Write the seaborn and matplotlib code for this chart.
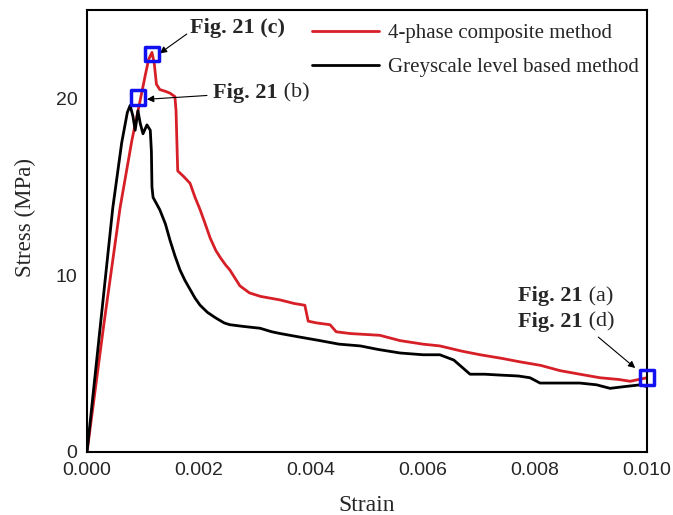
import matplotlib
matplotlib.use("Agg")
import matplotlib.pyplot as plt
import seaborn as sns
import numpy as np
import pandas as pd

# 4-phase composite method (strain x 1e-3, stress MPa)
red_strain = [0, 0.30, 0.59, 0.80, 0.95, 1.04, 1.10, 1.16, 1.20, 1.24, 1.30, 1.40, 1.48,
              1.57, 1.59, 1.61, 1.62, 1.72, 1.84, 1.93, 2.02, 2.10, 2.20, 2.30, 2.38,
              2.47, 2.55, 2.65, 2.73, 2.90, 3.10, 3.45, 3.70, 3.89, 3.95, 4.10, 4.34,
              4.45, 4.70, 5.23, 5.59, 6.00, 6.30, 6.70, 7.02, 7.40, 7.73, 8.10, 8.45,
              8.80, 9.16, 9.50, 9.70, 9.85, 10.0]
red_stress = [0, 7.2, 13.8, 17.6, 19.9, 21.3, 22.2, 22.6, 22.0, 20.8, 20.5, 20.4, 20.3,
              20.1, 19.3, 17.0, 15.9, 15.6, 15.2, 14.4, 13.7, 13.0, 12.1, 11.4, 11.0,
              10.6, 10.3, 9.8, 9.4, 9.0, 8.8, 8.6, 8.4, 8.3, 7.4, 7.3, 7.2,
              6.8, 6.7, 6.6, 6.3, 6.1, 6.0, 5.7, 5.5, 5.3, 5.1, 4.9, 4.6,
              4.4, 4.2, 4.1, 4.0, 4.1, 4.2]

# Greyscale level based method
black_strain = [0, 0.25, 0.46, 0.62, 0.72, 0.77, 0.82, 0.86, 0.91, 0.95, 1.00, 1.07, 1.13,
                1.15, 1.16, 1.18, 1.30, 1.40, 1.48, 1.57, 1.66, 1.75, 1.84, 1.93, 2.02,
                2.15, 2.29, 2.45, 2.55, 2.80, 3.09, 3.30, 3.45, 3.80, 4.16, 4.50, 4.88,
                5.20, 5.59, 6.00, 6.30, 6.55, 6.84, 7.10, 7.38, 7.70, 7.91, 8.09, 8.50,
                8.80, 9.10, 9.34, 9.60, 9.88, 10.0]
black_stress = [0, 7.5, 13.8, 17.5, 19.2, 19.6, 19.0, 18.2, 19.3, 18.6, 18.0, 18.5, 18.2,
                17.0, 15.0, 14.4, 13.7, 12.9, 12.0, 11.1, 10.3, 9.7, 9.2, 8.7, 8.3,
                7.9, 7.6, 7.3, 7.2, 7.1, 7.0, 6.8, 6.7, 6.5, 6.3, 6.1, 6.0,
                5.8, 5.6, 5.5, 5.5, 5.2, 4.4, 4.4, 4.35, 4.3, 4.2, 3.9, 3.9,
                3.9, 3.8, 3.6, 3.7, 3.8, 3.7]

# blue square markers (Fig. 21 snapshots)
mark_strain = [1.16, 0.91, 10.0]
mark_stress = [22.5, 20.05, 4.2]

red_df = pd.DataFrame({"Strain": np.array(red_strain) * 1e-3, "Stress": red_stress})
black_df = pd.DataFrame({"Strain": np.array(black_strain) * 1e-3, "Stress": black_stress})
mark_df = pd.DataFrame({"Strain": np.array(mark_strain) * 1e-3, "Stress": mark_stress})

sns.set_style("white")
serif = ["Liberation Serif", "DejaVu Serif"]
plt.rcParams["font.family"] = ["Liberation Sans", "DejaVu Sans"]

fig = plt.figure(figsize=(6.73, 5.15), dpi=100)
ax = fig.add_axes([87 / 673, 1 - 452 / 515, 560 / 673, 442 / 515])

sns.lineplot(data=red_df, x="Strain", y="Stress", sort=False, color="#d61f26", lw=2,
             label="4-phase composite method", ax=ax)
sns.lineplot(data=black_df, x="Strain", y="Stress", sort=False, color="black", lw=2,
             label="Greyscale level based method", ax=ax)
sns.scatterplot(data=mark_df, x="Strain", y="Stress", marker="s", s=110,
                facecolor="none", edgecolor="#1010f0", linewidth=2.5, zorder=5,
                clip_on=False, ax=ax)

ax.set_xlim(0, 0.010)
ax.set_ylim(0, 25)
ax.set_xticks([0, 0.002, 0.004, 0.006, 0.008, 0.010])
ax.set_xticklabels(["0.000", "0.002", "0.004", "0.006", "0.008", "0.010"])
ax.set_yticks([0, 10, 20])
ax.tick_params(length=0, labelsize=14)
ax.tick_params(axis="x", pad=7)
ax.tick_params(axis="y", pad=7)
for sp in ax.spines.values():
    sp.set_linewidth(1.5)
    sp.set_color("black")

ax.set_xlabel("Strain", family=serif, fontsize=17)
ax.set_ylabel("Stress (MPa)", family=serif, fontsize=16.5)
ax.xaxis.set_label_coords(0.5, -0.097)
ax.yaxis.set_label_coords(-0.091, 0.53)

arrow = dict(arrowstyle="-|>", color="black", lw=0.8, mutation_scale=10)
ax.annotate("Fig. 21 (c)", xy=(0.00130, 22.55), xytext=(0.00184, 24.0),
            family=serif, fontsize=16, fontweight="bold", va="center", ha="left",
            arrowprops=dict(arrow, shrinkA=0, shrinkB=0, relpos=(0, 0.3)))
tb = ax.annotate("Fig. 21", xy=(0.00107, 19.95), xytext=(0.00225, 20.3),
                 family=serif, fontsize=16, fontweight="bold", va="center", ha="left",
                 arrowprops=dict(arrow, shrinkA=2, shrinkB=0, relpos=(0, 0.4)))
ax.annotate(" (b)", xy=(1, 0.5), xycoords=tb, va="center", ha="left",
            family=serif, fontsize=16)
ta = ax.text(0.0077, 8.8, "Fig. 21", family=serif, fontsize=16, fontweight="bold",
             va="center", ha="left")
ax.annotate(" (a)", xy=(1, 0.5), xycoords=ta, va="center", ha="left",
            family=serif, fontsize=16)
td = ax.text(0.0077, 7.35, "Fig. 21", family=serif, fontsize=16, fontweight="bold",
             va="center", ha="left")
ax.annotate(" (d)", xy=(1, 0.5), xycoords=td, va="center", ha="left",
            family=serif, fontsize=16)
ax.annotate("", xy=(0.00979, 4.75), xytext=(0.00913, 6.5),
            arrowprops=dict(arrow, shrinkA=0, shrinkB=0))

ax.legend(loc="upper left", bbox_to_anchor=(0.402, 0.969), frameon=False,
          prop={"family": serif, "size": 15}, handlelength=3.2, handletextpad=0.45,
          labelspacing=0.7, borderpad=0, borderaxespad=0)

fig.savefig("out.png", dpi=100)
